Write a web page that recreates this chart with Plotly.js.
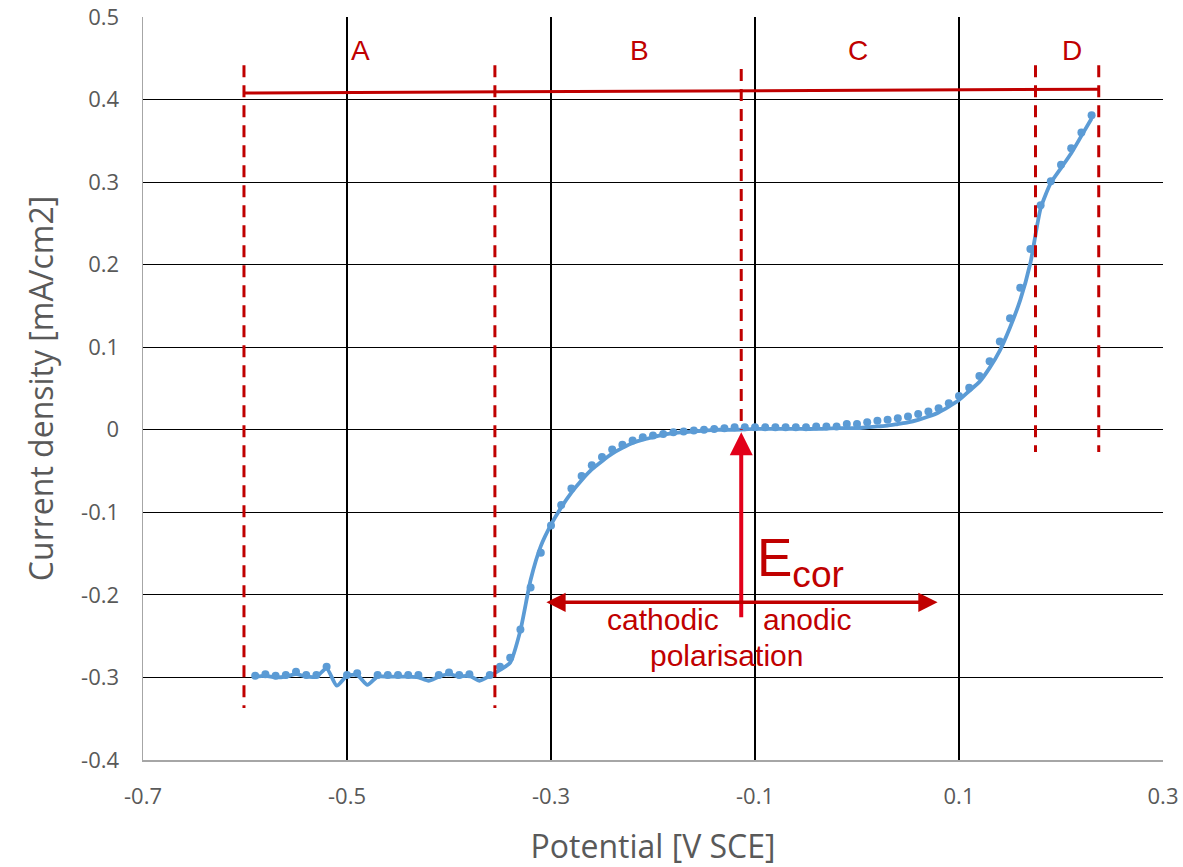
<!DOCTYPE html>
<html>
<head>
<meta charset="utf-8">
<script src="https://cdn.plot.ly/plotly-3.0.1.min.js"></script>
<style>html,body{margin:0;padding:0;background:#fff;}#chart{width:1183px;height:867px;}</style>
</head>
<body>
<div id="chart"></div>
<script>
// Measured points (potential, V SCE)
const potential = [
  -0.59,-0.58,-0.57,-0.56,-0.55,-0.54,-0.53,-0.52,-0.50,-0.49,-0.47,-0.46,-0.45,-0.44,-0.43,-0.41,-0.40,-0.39,-0.38,-0.36,
  -0.35,-0.34,-0.33,-0.32,-0.31,-0.30,-0.29,-0.28,-0.27,-0.26,-0.25,-0.24,-0.23,-0.22,-0.21,-0.20,-0.19,-0.18,-0.17,-0.16,-0.15,-0.14,-0.13,
  -0.12,-0.11,-0.10,-0.09,-0.08,-0.07,-0.06,-0.05,-0.04,-0.03,-0.02,-0.01,0.00,0.01,0.02,0.03,0.04,0.05,0.06,0.07,0.08,0.09,
  0.10,0.11,0.12,0.13,0.14,0.15,0.16,0.17,0.18,0.19,0.20,0.21,0.22,0.23
];
const currentDensity = [
  -0.298,-0.296,-0.298,-0.297,-0.293,-0.297,-0.297,-0.287,-0.297,-0.295,-0.297,-0.297,-0.297,-0.297,-0.297,-0.297,-0.294,-0.297,-0.296,-0.297,
  -0.287,-0.276,-0.242,-0.191,-0.149,-0.116,-0.091,-0.071,-0.056,-0.043,-0.033,-0.024,-0.018,-0.013,-0.009,-0.007,-0.005,-0.003,-0.002,-0.001,0.000,0.001,0.002,
  0.003,0.003,0.003,0.003,0.003,0.003,0.003,0.003,0.004,0.004,0.004,0.007,0.007,0.009,0.011,0.012,0.014,0.016,0.019,0.022,0.026,0.032,
  0.041,0.051,0.065,0.083,0.107,0.135,0.172,0.219,0.272,0.301,0.321,0.341,0.360,0.381
];
// Smoothed curve
const fitPotential = [
  -0.59,-0.58,-0.57,-0.56,-0.55,-0.54,-0.53,-0.52,-0.51,-0.50,-0.49,-0.48,-0.47,-0.46,-0.45,-0.44,-0.43,-0.42,-0.41,-0.40,-0.39,-0.38,-0.37,-0.36,
  -0.35,-0.34,-0.33,-0.32,-0.31,-0.30,-0.29,-0.28,-0.27,-0.26,-0.25,-0.24,-0.23,-0.22,-0.21,-0.20,-0.19,-0.18,-0.17,-0.16,-0.15,-0.14,
  -0.12,-0.10,-0.08,-0.06,-0.04,-0.02,0.00,0.01,0.02,0.03,0.04,0.05,0.06,0.07,0.08,0.09,
  0.10,0.11,0.12,0.13,0.14,0.15,0.16,0.17,0.18,0.19,0.20,0.21,0.22,0.23
];
const fitCurrent = [
  -0.299,-0.298,-0.300,-0.299,-0.296,-0.299,-0.299,-0.289,-0.310,-0.298,-0.297,-0.309,-0.299,-0.299,-0.299,-0.299,-0.300,-0.304,-0.299,-0.296,-0.299,-0.298,-0.304,-0.298,
  -0.291,-0.282,-0.243,-0.182,-0.141,-0.115,-0.094,-0.076,-0.061,-0.048,-0.038,-0.029,-0.022,-0.016,-0.012,-0.009,-0.006,-0.004,-0.003,-0.002,-0.001,0.000,
  0.000,0.001,0.001,0.001,0.001,0.002,0.002,0.003,0.004,0.005,0.007,0.009,0.012,0.016,0.021,0.028,
  0.036,0.047,0.058,0.075,0.096,0.124,0.157,0.202,0.268,0.299,0.317,0.335,0.356,0.377
];
// Axis ticks
const xTicks = [-0.7,-0.5,-0.3,-0.1,0.1,0.3];
const xTickText = ['-0.7','-0.5','-0.3','-0.1','0.1','0.3'];
const yTicks = [-0.4,-0.3,-0.2,-0.1,0,0.1,0.2,0.3,0.4,0.5];
const yTickText = ['-0.4','-0.3','-0.2','-0.1','0','0.1','0.2','0.3','0.4','0.5'];
// Annotation values
const regionBounds = [-0.601,-0.355,0.175,0.237];
const regionLabels = ['A','B','C','D'];
const regionLabelX = [-0.487,-0.213,0.001,0.211];
const eCor = -0.1135;
const polarArrowX = [-0.306,0.079];

const red = '#c00000';
const brightRed = '#e2001a';
const dash = '12px,8px';
const annFont = 'Liberation Sans, Arial, sans-serif';

const traces = [
  {x: fitPotential, y: fitCurrent, type: 'scatter', mode: 'lines',
   line: {color: '#5b9bd5', width: 3.8, shape: 'spline', smoothing: 0.6}, hoverinfo: 'skip'},
  {x: potential, y: currentDensity, type: 'scatter', mode: 'markers',
   marker: {color: '#5b9bd5', size: 8}}
];

const shapes = [];
// Dashed region boundaries
[[regionBounds[0],0.4415,-0.337],[regionBounds[1],0.4415,-0.337],[regionBounds[2],0.4415,-0.027],[regionBounds[3],0.4415,-0.027],[eCor,0.437,0.0]].forEach(function(d){
  shapes.push({type:'line', xref:'x', yref:'y', x0:d[0], x1:d[0], y0:d[1], y1:d[2], line:{color:red, width:3, dash:dash}});
});
// Top horizontal region bar
shapes.push({type:'line', xref:'x', yref:'y', x0:regionBounds[0], x1:regionBounds[3], y0:0.408, y1:0.4125, line:{color:red, width:3}});

const annotations = [];
regionLabels.forEach(function(t,i){
  annotations.push({x: regionLabelX[i], y: 0.459, xref:'x', yref:'y', text: t, showarrow:false,
    font:{family:annFont, size:28, color:red}});
});
// Vertical E_cor arrow
annotations.push({x: eCor, y: -0.003, ax: eCor, ay: -0.229, xref:'x', yref:'y', axref:'x', ayref:'y',
  text:'', showarrow:true, arrowhead:2, arrowsize:1.15, arrowwidth:4, arrowcolor:brightRed, standoff:0});
// Double headed polarisation arrow
annotations.push({x: polarArrowX[1], y: -0.209, ax: polarArrowX[0], ay: -0.209, xref:'x', yref:'y', axref:'x', ayref:'y',
  text:'', showarrow:true, arrowhead:2, startarrowhead:2, arrowside:'end+start', arrowsize:1.1, startarrowsize:1.1, arrowwidth:3.5, arrowcolor:red, standoff:0, startstandoff:0});
annotations.push({x: -0.055, y: -0.159, xref:'x', yref:'y', text:'E<sub>cor</sub>', showarrow:false,
  font:{family:annFont, size:53, color:red}});
annotations.push({x: -0.1902, y: -0.2295, xref:'x', yref:'y', text:'cathodic', showarrow:false,
  font:{family:annFont, size:30, color:red}});
annotations.push({x: -0.049, y: -0.2295, xref:'x', yref:'y', text:'anodic', showarrow:false,
  font:{family:annFont, size:30, color:red}});
annotations.push({x: -0.1284, y: -0.273, xref:'x', yref:'y', text:'polarisation', showarrow:false,
  font:{family:annFont, size:30, color:red}});

const layout = {
  width: 1183, height: 867,
  margin: {l: 143, r: 20, t: 17, b: 107},
  paper_bgcolor: '#fff', plot_bgcolor: '#fff',
  showlegend: false,
  font: {family: 'Open Sans, sans-serif', color: '#595959'},
  xaxis: {
    range: [-0.7, 0.3], tickvals: xTicks, ticktext: xTickText,
    showgrid: true, gridcolor: '#000', gridwidth: 1.2, zeroline: false,
    showline: true, linecolor: '#a6a6a6', linewidth: 1.5,
    ticks: '', tickfont: {size: 22, color: '#595959'}, ticklabelstandoff: 16,
    title: {text: 'Potential [V SCE]', font: {size: 32, color: '#595959'}, standoff: 30}
  },
  yaxis: {
    range: [-0.4, 0.5], tickvals: yTicks, ticktext: yTickText,
    showgrid: true, gridcolor: '#000', gridwidth: 1.2, zeroline: false,
    showline: true, linecolor: '#a6a6a6', linewidth: 1.5,
    ticks: '', tickfont: {size: 22, color: '#595959'}, ticklabelstandoff: 18,
    title: {text: 'Current density [mA/cm2]', font: {size: 32, color: '#595959'}, standoff: 18}
  },
  shapes: shapes,
  annotations: annotations
};

Plotly.newPlot('chart', traces, layout, {displayModeBar: false, staticPlot: true});
</script>
</body>
</html>
